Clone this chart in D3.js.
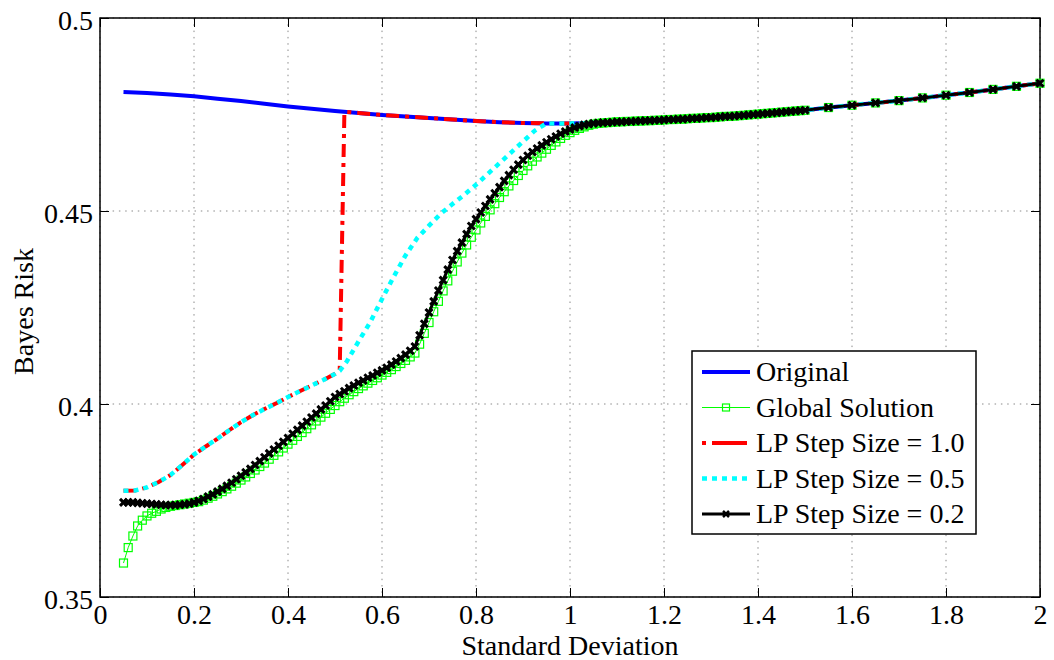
<!DOCTYPE html>
<html>
<head>
<meta charset="utf-8">
<script src="https://cdn.jsdelivr.net/npm/d3@7"></script>
<style>
  body { margin: 0; background: #fff; }
  text { font-family: "Liberation Serif", "Times New Roman", serif; }
</style>
</head>
<body>
<div id="chart"></div>
<script>
// Standard deviation grid shared by the marker series (Global / LP 0.2)
const sdFine = [
  0.05, 0.06, 0.07, 0.08, 0.09, 0.10, 0.11, 0.12, 0.13, 0.14,
  0.15, 0.16, 0.17, 0.18, 0.19, 0.20, 0.21, 0.22, 0.23, 0.24,
  0.25, 0.26, 0.27, 0.28, 0.29, 0.30, 0.31, 0.32, 0.33, 0.34,
  0.35, 0.36, 0.37, 0.38, 0.39, 0.40, 0.41, 0.42, 0.43, 0.44,
  0.45, 0.46, 0.47, 0.48, 0.49, 0.50, 0.51, 0.52, 0.53, 0.54,
  0.55, 0.56, 0.57, 0.58, 0.59, 0.60, 0.61, 0.62, 0.63, 0.64,
  0.65, 0.66, 0.67, 0.68, 0.69, 0.70, 0.71, 0.72, 0.73, 0.74,
  0.75, 0.76, 0.77, 0.78, 0.79, 0.80, 0.81, 0.82, 0.83, 0.84,
  0.85, 0.86, 0.87, 0.88, 0.89, 0.90, 0.91, 0.92, 0.93, 0.94,
  0.95, 0.96, 0.97, 0.98, 0.99, 1.00, 1.01, 1.02, 1.03, 1.04,
  1.05, 1.06, 1.07, 1.08, 1.09, 1.10, 1.11, 1.12, 1.13, 1.14,
  1.15, 1.16, 1.17, 1.18, 1.19, 1.20, 1.21, 1.22, 1.23, 1.24,
  1.25, 1.26, 1.27, 1.28, 1.29, 1.30, 1.31, 1.32, 1.33, 1.34,
  1.35, 1.36, 1.37, 1.38, 1.39, 1.40, 1.41, 1.42, 1.43, 1.44,
  1.45, 1.46, 1.47, 1.48, 1.49, 1.50,
  1.55, 1.60, 1.65, 1.70, 1.75, 1.80, 1.85, 1.90, 1.95, 2.00
];

const globalRisk = [
  0.3588, 0.3628, 0.3658, 0.3684, 0.3699, 0.3710, 0.3717, 0.3722, 0.3728, 0.3732,
  0.3735, 0.3737, 0.3739, 0.3741, 0.3743, 0.3745, 0.3747, 0.3751, 0.3756, 0.3761,
  0.3767, 0.3773, 0.3780, 0.3787, 0.3795, 0.3803, 0.3811, 0.3820, 0.3829, 0.3838,
  0.3847, 0.3857, 0.3867, 0.3876, 0.3886, 0.3896, 0.3906, 0.3916, 0.3926, 0.3936,
  0.3946, 0.3956, 0.3966, 0.3976, 0.3986, 0.3996, 0.4006, 0.4015, 0.4024, 0.4032,
  0.4040, 0.4047, 0.4054, 0.4061, 0.4068, 0.4075, 0.4082, 0.4089, 0.4097, 0.4105,
  0.4113, 0.4122, 0.4132, 0.4155, 0.4183, 0.4211, 0.4239, 0.4266, 0.4293, 0.4319,
  0.4344, 0.4368, 0.4391, 0.4412, 0.4432, 0.4451, 0.4469, 0.4486, 0.4503, 0.4519,
  0.4535, 0.4550, 0.4565, 0.4579, 0.4592, 0.4605, 0.4617, 0.4629, 0.4640, 0.4650,
  0.4660, 0.4670, 0.4679, 0.4688, 0.4696, 0.4703, 0.4709, 0.4714, 0.4718, 0.4722,
  0.4725, 0.4727, 0.4728, 0.4729, 0.4730, 0.4731, 0.4731, 0.4732, 0.4732, 0.4733,
  0.4733, 0.4734, 0.4734, 0.4735, 0.4735, 0.4736, 0.4737, 0.4737, 0.4738, 0.4738,
  0.4739, 0.4740, 0.4740, 0.4741, 0.4742, 0.4742, 0.4743, 0.4744, 0.4745, 0.4745,
  0.4746, 0.4747, 0.4748, 0.4749, 0.4750, 0.4751, 0.4752, 0.4753, 0.4754, 0.4755,
  0.4756, 0.4757, 0.4758, 0.4759, 0.4760, 0.4761,
  0.4768, 0.4774, 0.4780, 0.4786, 0.4793, 0.4800, 0.4807, 0.4815, 0.4823, 0.4831
];

const lp02Risk = [
  0.3745, 0.3745, 0.3745, 0.3744, 0.3743, 0.3742, 0.3741, 0.3740, 0.3739, 0.3738,
  0.3738, 0.3738, 0.3739, 0.3740, 0.3742, 0.3745, 0.3749, 0.3754, 0.3760, 0.3766,
  0.3773, 0.3780, 0.3788, 0.3796, 0.3805, 0.3814, 0.3823, 0.3832, 0.3842, 0.3852,
  0.3862, 0.3872, 0.3882, 0.3892, 0.3902, 0.3912, 0.3923, 0.3933, 0.3944, 0.3954,
  0.3965, 0.3975, 0.3986, 0.3996, 0.4007, 0.4018, 0.4026, 0.4033, 0.4041, 0.4048,
  0.4055, 0.4061, 0.4068, 0.4074, 0.4081, 0.4087, 0.4094, 0.4102, 0.4110, 0.4119,
  0.4128, 0.4138, 0.4149, 0.4178, 0.4208, 0.4237, 0.4266, 0.4294, 0.4321, 0.4348,
  0.4373, 0.4396, 0.4418, 0.4440, 0.4461, 0.4479, 0.4496, 0.4513, 0.4530, 0.4546,
  0.4562, 0.4578, 0.4593, 0.4607, 0.4620, 0.4632, 0.4643, 0.4653, 0.4662, 0.4670,
  0.4678, 0.4686, 0.4693, 0.4700, 0.4706, 0.4711, 0.4716, 0.4720, 0.4723, 0.4725,
  0.4727, 0.4728, 0.4729, 0.4729, 0.4730, 0.4731, 0.4731, 0.4732, 0.4732, 0.4733,
  0.4733, 0.4734, 0.4734, 0.4735, 0.4735, 0.4736, 0.4737, 0.4737, 0.4738, 0.4738,
  0.4739, 0.4740, 0.4740, 0.4741, 0.4742, 0.4742, 0.4743, 0.4744, 0.4745, 0.4745,
  0.4746, 0.4747, 0.4748, 0.4749, 0.4750, 0.4751, 0.4752, 0.4753, 0.4754, 0.4755,
  0.4756, 0.4757, 0.4758, 0.4759, 0.4760, 0.4761,
  0.4768, 0.4774, 0.4780, 0.4786, 0.4793, 0.4800, 0.4807, 0.4815, 0.4823, 0.4831
];

// Original (no noise enhancement)
const sdOrig = [
  0.05, 0.10, 0.15, 0.20, 0.25, 0.30, 0.35, 0.40, 0.45, 0.50,
  0.55, 0.60, 0.65, 0.70, 0.75, 0.80, 0.85, 0.90, 0.95, 1.00,
  1.05, 1.10, 1.15, 1.20, 1.25, 1.30, 1.35, 1.40, 1.45, 1.50,
  1.55, 1.60, 1.65, 1.70, 1.75, 1.80, 1.85, 1.90, 1.95, 2.00
];
const origRisk = [
  0.4808, 0.4806, 0.4802, 0.4797, 0.4791, 0.4785, 0.4778, 0.4771, 0.4765, 0.4759,
  0.4754, 0.4749, 0.4745, 0.4741, 0.4737, 0.4733, 0.4730, 0.4728, 0.4727, 0.4727,
  0.4728, 0.4730, 0.4733, 0.4736, 0.4739, 0.4742, 0.4746, 0.4751, 0.4756, 0.4761,
  0.4768, 0.4774, 0.4780, 0.4786, 0.4793, 0.4800, 0.4807, 0.4815, 0.4823, 0.4831
];

// LP step size 0.5
const sdLP05 = [
  0.05, 0.075, 0.10, 0.125, 0.15, 0.175, 0.20, 0.225, 0.25, 0.275,
  0.30, 0.325, 0.35, 0.375, 0.40, 0.425, 0.45, 0.475, 0.50, 0.51,
  0.525, 0.55, 0.575, 0.60, 0.625, 0.65, 0.675, 0.70, 0.725, 0.75,
  0.775, 0.80, 0.825, 0.85, 0.875, 0.90, 0.925, 0.95,
  1.00, 1.05, 1.10, 1.15, 1.20, 1.25, 1.30, 1.35, 1.40, 1.45, 1.50,
  1.55, 1.60, 1.65, 1.70, 1.75, 1.80, 1.85, 1.90, 1.95, 2.00
];
const lp05Risk = [
  0.3775, 0.3776, 0.3784, 0.3798, 0.3816, 0.3842, 0.3869, 0.3890, 0.3910, 0.3932,
  0.3953, 0.3971, 0.3987, 0.4002, 0.4018, 0.4033, 0.4048, 0.4062, 0.4078, 0.4086,
  0.4110, 0.4162, 0.4212, 0.4272, 0.4330, 0.4385, 0.4430, 0.4462, 0.4493, 0.4518,
  0.4542, 0.4568, 0.4596, 0.4624, 0.4652, 0.4680, 0.4708, 0.4727,
  0.4727, 0.4728, 0.4730, 0.4733, 0.4736, 0.4739, 0.4742, 0.4746, 0.4751, 0.4756, 0.4761,
  0.4768, 0.4774, 0.4780, 0.4786, 0.4793, 0.4800, 0.4807, 0.4815, 0.4823, 0.4831
];

// LP step size 1.0
const sdLP10 = [
  0.05, 0.075, 0.10, 0.125, 0.15, 0.175, 0.20, 0.225, 0.25, 0.275,
  0.30, 0.325, 0.35, 0.375, 0.40, 0.425, 0.45, 0.475, 0.50, 0.51,
  0.52, 0.55, 0.60, 0.65, 0.70, 0.75, 0.80, 0.85, 0.90, 0.95,
  1.00, 1.05, 1.10, 1.15, 1.20, 1.25, 1.30, 1.35, 1.40, 1.45, 1.50,
  1.55, 1.60, 1.65, 1.70, 1.75, 1.80, 1.85, 1.90, 1.95, 2.00
];
const lp10Risk = [
  0.3775, 0.3776, 0.3784, 0.3798, 0.3816, 0.3842, 0.3869, 0.3890, 0.3910, 0.3932,
  0.3953, 0.3971, 0.3987, 0.4002, 0.4018, 0.4033, 0.4048, 0.4062, 0.4078, 0.4086,
  0.4757, 0.4754, 0.4749, 0.4745, 0.4741, 0.4737, 0.4733, 0.4730, 0.4728, 0.4727,
  0.4727, 0.4728, 0.4730, 0.4733, 0.4736, 0.4739, 0.4742, 0.4746, 0.4751, 0.4756, 0.4761,
  0.4768, 0.4774, 0.4780, 0.4786, 0.4793, 0.4800, 0.4807, 0.4815, 0.4823, 0.4831
];

const xTicks = [0, 0.2, 0.4, 0.6, 0.8, 1, 1.2, 1.4, 1.6, 1.8, 2];
const yTicks = [0.35, 0.4, 0.45, 0.5];
const legendLabels = ["Original", "Global Solution", "LP Step Size = 1.0", "LP Step Size = 0.5", "LP Step Size = 0.2"];

const width = 1054;
const height = 660;
const margin = { top: 18, right: 14, bottom: 63, left: 100 };

const svg = d3.select("#chart")
  .append("svg")
  .attr("width", width)
  .attr("height", height);

const x = d3.scaleLinear().domain([0, 2]).range([margin.left, width - margin.right]);
const y = d3.scaleLinear().domain([0.35, 0.5]).range([height - margin.bottom, margin.top]);

const plotW = x(2) - x(0);
const plotH = y(0.35) - y(0.5);

// dotted grid
svg.append("g")
  .selectAll("line.vg")
  .data(xTicks)
  .enter().append("line")
  .attr("x1", d => x(d)).attr("x2", d => x(d))
  .attr("y1", y(0.5)).attr("y2", y(0.35))
  .attr("stroke", "#8a8a8a").attr("stroke-width", 1)
  .attr("stroke-dasharray", "1.5,4.8");

svg.append("g")
  .selectAll("line.hg")
  .data(yTicks)
  .enter().append("line")
  .attr("x1", x(0)).attr("x2", x(2))
  .attr("y1", d => y(d)).attr("y2", d => y(d))
  .attr("stroke", "#8a8a8a").attr("stroke-width", 1)
  .attr("stroke-dasharray", "1.5,4.8");

// axes with inward ticks
const fmtX = d => String(+d.toFixed(1));
const xAxis = svg.append("g")
  .attr("transform", `translate(0,${y(0.35)})`)
  .call(d3.axisBottom(x).tickValues(xTicks).tickFormat(fmtX).tickSize(-9).tickSizeOuter(0).tickPadding(7));
const yAxis = svg.append("g")
  .attr("transform", `translate(${x(0)},0)`)
  .call(d3.axisLeft(y).tickValues(yTicks).tickFormat(d => String(+d.toFixed(2))).tickSize(-9).tickSizeOuter(0).tickPadding(7));
svg.append("g")
  .attr("transform", `translate(0,${y(0.5)})`)
  .call(d3.axisTop(x).tickValues(xTicks).tickFormat("").tickSize(-9).tickSizeOuter(0));
svg.append("g")
  .attr("transform", `translate(${x(2)},0)`)
  .call(d3.axisRight(y).tickValues(yTicks).tickFormat("").tickSize(-9).tickSizeOuter(0));

svg.selectAll(".domain").remove();
svg.selectAll(".tick line").attr("stroke", "#000").attr("stroke-width", 1);
svg.selectAll(".tick text")
  .style("font-size", "28px")
  .attr("fill", "#000");
yAxis.selectAll(".tick text").attr("dy", "0.4em");

// frame
svg.append("rect")
  .attr("x", x(0)).attr("y", y(0.5))
  .attr("width", plotW).attr("height", plotH)
  .attr("fill", "none").attr("stroke", "#000").attr("stroke-width", 1.5);

// axis titles
svg.append("text")
  .attr("x", (x(0) + x(2)) / 2)
  .attr("y", 655)
  .attr("text-anchor", "middle")
  .style("font-size", "28px")
  .text("Standard Deviation");

svg.append("text")
  .attr("transform", `translate(33,${(y(0.35) + y(0.5)) / 2 + 4}) rotate(-90)`)
  .attr("text-anchor", "middle")
  .style("font-size", "28px")
  .text("Bayes Risk");

const line = d3.line().x(d => x(d[0])).y(d => y(d[1]));
const zipPts = (xs, ys) => xs.map((v, i) => [v, ys[i]]);

const origPts = zipPts(sdOrig, origRisk);
const globalPts = zipPts(sdFine, globalRisk);
const lp10Pts = zipPts(sdLP10, lp10Risk);
const lp05Pts = zipPts(sdLP05, lp05Risk);
const lp02Pts = zipPts(sdFine, lp02Risk);

// Original
svg.append("path").datum(origPts)
  .attr("d", line).attr("fill", "none")
  .attr("stroke", "#0000ff").attr("stroke-width", 4);

// Global solution with square markers
svg.append("path").datum(globalPts)
  .attr("d", line).attr("fill", "none")
  .attr("stroke", "#00ff00").attr("stroke-width", 1);
svg.append("g").selectAll("rect")
  .data(globalPts)
  .enter().append("rect")
  .attr("x", d => x(d[0]) - 4).attr("y", d => y(d[1]) - 4)
  .attr("width", 8).attr("height", 8)
  .attr("fill", "none").attr("stroke", "#00ff00").attr("stroke-width", 1.2);

// LP step 1.0 (dash-dot)
svg.append("path").datum(lp10Pts)
  .attr("d", line).attr("fill", "none")
  .attr("stroke", "#ff0000").attr("stroke-width", 4)
  .attr("stroke-dasharray", "13,6,4,6");

// LP step 0.5 (dotted)
svg.append("path").datum(lp05Pts)
  .attr("d", line).attr("fill", "none")
  .attr("stroke", "#00ffff").attr("stroke-width", 4.5)
  .attr("stroke-dasharray", "5,5");

// LP step 0.2 with x markers
svg.append("path").datum(lp02Pts)
  .attr("d", line).attr("fill", "none")
  .attr("stroke", "#000").attr("stroke-width", 3);
svg.append("g").selectAll("path")
  .data(lp02Pts)
  .enter().append("path")
  .attr("transform", d => `translate(${x(d[0])},${y(d[1])})`)
  .attr("d", "M-3.5,-3.5L3.5,3.5M-3.5,3.5L3.5,-3.5")
  .attr("stroke", "#000").attr("stroke-width", 3);

// Legend
const legend = svg.append("g");
legend.append("rect")
  .attr("x", 692).attr("y", 351)
  .attr("width", 284).attr("height", 183)
  .attr("fill", "#fff").attr("stroke", "#000").attr("stroke-width", 1.5);

const legStyles = [
  { color: "#0000ff", w: 4, dash: null, marker: null },
  { color: "#00ff00", w: 1, dash: null, marker: "square" },
  { color: "#ff0000", w: 4, dash: "4,6,35,6", marker: null },
  { color: "#00ffff", w: 4.5, dash: "5,5", marker: null },
  { color: "#000", w: 3, dash: null, marker: "x" }
];

legendLabels.forEach((label, i) => {
  const cy = 372 + i * 35.5;
  const s = legStyles[i];
  const l = legend.append("line")
    .attr("x1", 702).attr("x2", 750)
    .attr("y1", cy).attr("y2", cy)
    .attr("stroke", s.color).attr("stroke-width", s.w);
  if (s.dash) l.attr("stroke-dasharray", s.dash);
  if (s.marker === "square") {
    legend.append("rect")
      .attr("x", 726 - 3.5).attr("y", cy - 3.5)
      .attr("width", 7).attr("height", 7)
      .attr("fill", "none").attr("stroke", s.color).attr("stroke-width", 1.2);
  }
  if (s.marker === "x") {
    legend.append("path")
      .attr("transform", `translate(726,${cy})`)
      .attr("d", "M-3,-3L3,3M-3,3L3,-3")
      .attr("stroke", s.color).attr("stroke-width", 2.5);
  }
  legend.append("text")
    .attr("x", 756).attr("y", cy + 9)
    .style("font-size", "28px")
    .text(label);
});
</script>
</body>
</html>
